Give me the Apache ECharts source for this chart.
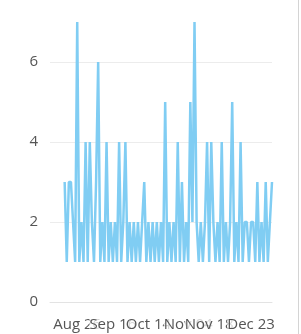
<!DOCTYPE html>
<html>
<head>
<meta charset="utf-8">
<script src="https://cdn.jsdelivr.net/npm/echarts@6/dist/echarts.min.js"></script>
<style>
  html, body { margin: 0; padding: 0; background: #fff; }
  #chart { width: 298px; height: 334px; border-right: 1px solid #d4d4d4; }
</style>
</head>
<body>
<div id="chart"></div>
<script>
// valores por día
const values = [
  3, 1, 3, 3, 2, 1, 7, 1, 2, 1,
  4, 1, 4, 2, 1, 3, 6, 1, 2, 1,
  4, 1, 2, 1, 2, 1, 4, 1, 2, 4,
  1, 2, 1, 2, 1, 2, 1, 2, 3, 1,
  2, 1, 2, 1, 2, 1, 2, 1, 5, 1,
  2, 1, 2, 1, 4, 1, 3, 1, 2, 1,
  5, 2, 7, 2, 1, 2, 1, 2, 4, 1,
  4, 2, 1, 2, 1, 4, 1, 2, 1, 2,
  5, 1, 2, 1, 4, 1, 2, 2, 1, 2,
  2, 1, 3, 1, 2, 1, 3, 1, 2, 3
];
const lead = 7; // categorías vacías antes del primer punto
const tickIdx = [13, 30, 47, 66, 76, 96];
const tickLabels = ['Aug 26', 'Sep 16', 'Oct 14', 'Nov 04', 'Nov 18', 'Dec 23'];

const categories = Array.from({ length: lead + values.length }, (_, i) => String(i));

const chart = echarts.init(document.getElementById('chart'));
chart.setOption({
  animation: false,
  grid: { left: 50, right: 26, top: 22, bottom: 32 },
  xAxis: {
    type: 'category',
    data: categories,
    boundaryGap: false,
    axisLine: { lineStyle: { color: '#e3e3e3' } },
    axisTick: { show: false },
    axisLabel: {
      interval: 0,
      formatter: (v) => {
        const k = tickIdx.indexOf(Number(v));
        return k >= 0 ? tickLabels[k] : '';
      },
      hideOverlap: false,
      color: '#555',
      backgroundColor: 'rgba(255,255,255,0.75)',
      fontSize: 15,
      fontFamily: 'Open Sans',
      margin: 15
    }
  },
  yAxis: {
    type: 'value',
    min: 0,
    max: 7,
    interval: 2,
    axisLabel: {
      showMaxLabel: false,
      color: '#555',
      fontSize: 15,
      fontFamily: 'Open Sans',
      margin: 12
    },
    splitLine: { showMaxLine: false, lineStyle: { color: '#ececec' } }
  },
  series: [{
    type: 'line',
    data: values.map((v, i) => [i + lead, v]),
    showSymbol: false,
    lineStyle: { color: '#80cdf3', width: 2.5 }
  }]
});
</script>
</body>
</html>
